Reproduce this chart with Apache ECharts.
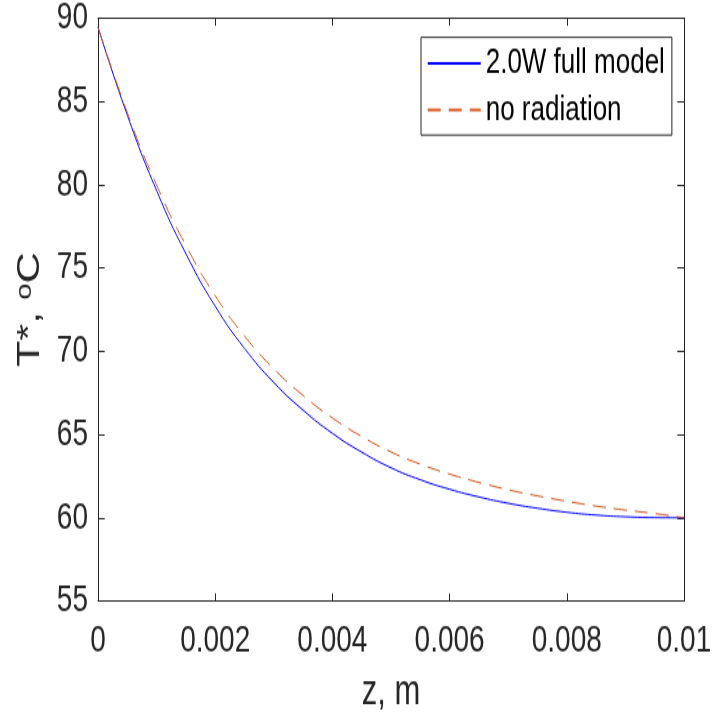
<!DOCTYPE html>
<html>
<head>
<meta charset="utf-8">
<script src="https://cdn.jsdelivr.net/npm/echarts@6/dist/echarts.min.js"></script>
<style>
html,body{margin:0;padding:0;background:#fff;overflow:hidden;}
#wrap{width:714px;height:719px;overflow:hidden;}
#chart{width:714px;height:533px;transform:scaleY(1.34897);transform-origin:0 0;}
</style>
</head>
<body>
<div id="wrap"><div id="chart"></div></div>
<script>
// z positions (m)
var zValues = [0, 0.0005, 0.001, 0.0015, 0.002, 0.0025, 0.003, 0.0035, 0.004, 0.0045, 0.005,
               0.0055, 0.006, 0.0065, 0.007, 0.0075, 0.008, 0.0085, 0.009, 0.0095, 0.01];
// 2.0W full model
var fullModel = [89.45, 84.17, 79.64, 75.85, 72.70, 70.17, 68.12, 66.46, 65.07, 63.94, 63.00,
                 62.28, 61.71, 61.25, 60.87, 60.57, 60.33, 60.16, 60.06, 60.01, 60.0];
// no radiation
var noRadiation = [89.45, 84.32, 79.97, 76.35, 73.33, 70.91, 68.94, 67.34, 65.99, 64.88, 63.95,
                   63.22, 62.62, 62.12, 61.68, 61.31, 60.99, 60.70, 60.46, 60.25, 60.0];
var seriesNames = ['2.0W full model', 'no radiation'];
var xTicks = {min: 0, max: 0.01, interval: 0.002};
var yTicks = {min: 55, max: 90, interval: 5};

function pairs(xs, ys) { return xs.map(function (x, i) { return [x, ys[i]]; }); }

var axisColor = '#262626';
var font = '"Liberation Sans", Arial, Helvetica, sans-serif';

var chart = echarts.init(document.getElementById('chart'), null, {renderer: 'canvas', width: 714, height: 533});
function baseAxis(tickLen) {
  return {
    axisLine: {show: true, onZero: false, lineStyle: {color: axisColor, width: 1}},
    axisTick: {show: true, inside: true, length: tickLen, lineStyle: {color: axisColor, width: 1}},
    splitLine: {show: false}
  };
}
var option = {
  backgroundColor: '#fff',
  animation: false,
  grid: {left: 98, right: 30, top: 13.34, bottom: 87.47, containLabel: false, outerBoundsMode: 'none'},
  legend: {
    show: true, orient: 'vertical', left: 421, top: 27.65,
    data: seriesNames,
    itemWidth: 53, itemHeight: 14, itemGap: 8.6,
    padding: [6.3, 7, 5.6, 5.7],
    itemStyle: {opacity: 0},
    backgroundColor: '#fff', borderColor: axisColor, borderWidth: 1, borderRadius: 0,
    textStyle: {fontFamily: font, fontSize: 26, color: '#000', lineHeight: 26}
  },
  xAxis: [
    Object.assign({type: 'value', min: xTicks.min, max: xTicks.max, interval: xTicks.interval, position: 'bottom',
      axisLabel: {show: true, margin: 15.3, fontFamily: font, fontSize: 28, color: axisColor,
        formatter: function (v) { return String(+v.toFixed(3)); }},
      name: 'z, m', nameLocation: 'middle', nameGap: 52,
      nameTextStyle: {fontFamily: font, fontSize: 31, color: axisColor}
    }, baseAxis(5.7)),
    Object.assign({type: 'value', min: xTicks.min, max: xTicks.max, interval: xTicks.interval, position: 'top',
      axisLabel: {show: false}}, baseAxis(5.7))
  ],
  yAxis: [
    Object.assign({type: 'value', min: yTicks.min, max: yTicks.max, interval: yTicks.interval, position: 'left',
      axisLabel: {show: true, margin: 10, fontFamily: font, fontSize: 28, color: axisColor},
      name: 'T*, {sup|o}C', nameLocation: 'middle', nameGap: 50, nameRotate: 90,
      nameTextStyle: {fontFamily: font, fontSize: 32, lineHeight: 32, color: axisColor,
        rich: {sup: {fontFamily: font, fontSize: 22, lineHeight: 10, color: axisColor, verticalAlign: 'top'}}}
    }, baseAxis(6.7)),
    Object.assign({type: 'value', min: yTicks.min, max: yTicks.max, interval: yTicks.interval, position: 'right',
      axisLabel: {show: false}}, baseAxis(6.7))
  ],
  series: [
    {
      name: seriesNames[0], type: 'line', xAxisIndex: 0, yAxisIndex: 0,
      data: pairs(zValues, fullModel), smooth: 0.5, symbol: 'none',
      lineStyle: {color: '#0000ff', width: 1}, itemStyle: {color: '#0000ff'}
    },
    {
      name: seriesNames[1], type: 'line', xAxisIndex: 0, yAxisIndex: 0,
      data: pairs(zValues, noRadiation), smooth: 0.5, symbol: 'none',
      lineStyle: {color: '#D95319', width: 1, type: [13, 8]}, itemStyle: {color: '#D95319'}
    }
  ]
};
chart.setOption(option);
</script>
</body>
</html>
